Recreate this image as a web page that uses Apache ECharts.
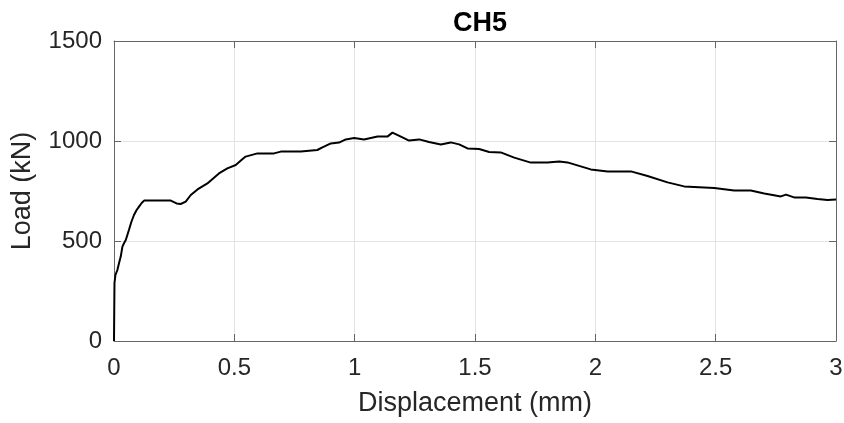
<!DOCTYPE html>
<html>
<head>
<meta charset="utf-8">
<script src="https://cdn.jsdelivr.net/npm/echarts@6/dist/echarts.min.js"></script>
<style>
html,body{margin:0;padding:0;background:#fff;}
#chart{width:844px;height:423px;}
</style>
</head>
<body>
<div id="chart"></div>
<script>
const titleText = "CH5";
const xName = "Displacement (mm)";
const yName = "Load (kN)";
const xTicks = [0, 0.5, 1, 1.5, 2, 2.5, 3];
const yTicks = [0, 500, 1000, 1500];
const displacement = [0, 0.001, 0.002, 0.006, 0.014, 0.021, 0.028, 0.035, 0.042, 0.049, 0.062, 0.072, 0.083, 0.094, 0.104, 0.115, 0.125, 0.18, 0.236, 0.243, 0.26, 0.277, 0.298, 0.319, 0.347, 0.388, 0.436, 0.471, 0.506, 0.527, 0.547, 0.596, 0.665, 0.693, 0.776, 0.845, 0.866, 0.901, 0.935, 0.963, 0.998, 1.039, 1.095, 1.136, 1.157, 1.192, 1.226, 1.268, 1.309, 1.358, 1.399, 1.434, 1.469, 1.517, 1.559, 1.607, 1.663, 1.732, 1.801, 1.850, 1.884, 1.981, 2.051, 2.148, 2.217, 2.300, 2.369, 2.494, 2.577, 2.646, 2.702, 2.771, 2.792, 2.826, 2.875, 2.923, 2.965, 3.0];
const load = [0, 150, 290, 330, 355, 390, 422, 472, 490, 505, 555, 595, 630, 655, 672, 690, 702, 702, 702, 692, 688, 685, 697, 730, 758, 788, 838, 863, 880, 902, 922, 938, 938, 947, 947, 955, 968, 988, 992, 1008, 1015, 1008, 1022, 1022, 1042, 1022, 1002, 1008, 995, 983, 993, 983, 963, 960, 945, 943, 917, 892, 892, 898, 893, 858, 847, 848, 825, 793, 773, 765, 753, 752, 738, 723, 732, 718, 718, 710, 705, 707];

const seriesData = displacement.map((x, i) => [x, load[i]]);
const font = '"Liberation Sans", Arial, Helvetica, sans-serif';
const txt = '#262626';
const axisCol = '#666666';
const gridCol = '#e3e3e3';

const chart = echarts.init(document.getElementById('chart'));
const baseX = {
  type: 'value', min: xTicks[0], max: xTicks[xTicks.length - 1], interval: xTicks[1] - xTicks[0],
  axisLine: { show: true, onZero: false, lineStyle: { color: axisCol, width: 1 } },
  axisTick: { show: true, inside: true, length: 7, lineStyle: { color: axisCol } },
};
const baseY = {
  type: 'value', min: yTicks[0], max: yTicks[yTicks.length - 1], interval: yTicks[1] - yTicks[0],
  axisLine: { show: true, onZero: false, lineStyle: { color: axisCol, width: 1 } },
  axisTick: { show: true, inside: true, length: 7, lineStyle: { color: axisCol } },
};
chart.setOption({
  backgroundColor: '#ffffff',
  animation: false,
  title: {
    text: titleText, left: 475, top: 5, textAlign: 'center',
    textStyle: { fontFamily: font, fontWeight: 'bold', fontSize: 27, color: '#000' }
  },
  grid: { left: 114, right: 8, top: 41, bottom: 82, containLabel: false, outerBoundsMode: 'none' },
  xAxis: [
    Object.assign({}, baseX, {
      position: 'bottom',
      name: xName, nameLocation: 'middle', nameGap: 49,
      nameTextStyle: { fontFamily: font, fontSize: 27, color: txt },
      axisLabel: { show: true, margin: 15, fontFamily: font, fontSize: 24, color: txt,
        formatter: v => String(v) },
      splitLine: { show: true, lineStyle: { color: gridCol, width: 1 } }
    }),
    Object.assign({}, baseX, {
      position: 'top',
      axisLabel: { show: false },
      splitLine: { show: false }
    })
  ],
  yAxis: [
    Object.assign({}, baseY, {
      position: 'left',
      name: yName, nameLocation: 'middle', nameGap: 78,
      nameTextStyle: { fontFamily: font, fontSize: 27, color: txt },
      axisLabel: { show: true, margin: 12, fontFamily: font, fontSize: 24, color: txt,
        formatter: v => String(v) },
      splitLine: { show: true, lineStyle: { color: gridCol, width: 1 } }
    }),
    Object.assign({}, baseY, {
      position: 'right',
      axisLabel: { show: false },
      splitLine: { show: false }
    })
  ],
  series: [{
    type: 'line',
    data: seriesData,
    xAxisIndex: 0, yAxisIndex: 0,
    showSymbol: false,
    smooth: false,
    lineStyle: { color: '#000000', width: 2 }
  }]
});
</script>
</body>
</html>
